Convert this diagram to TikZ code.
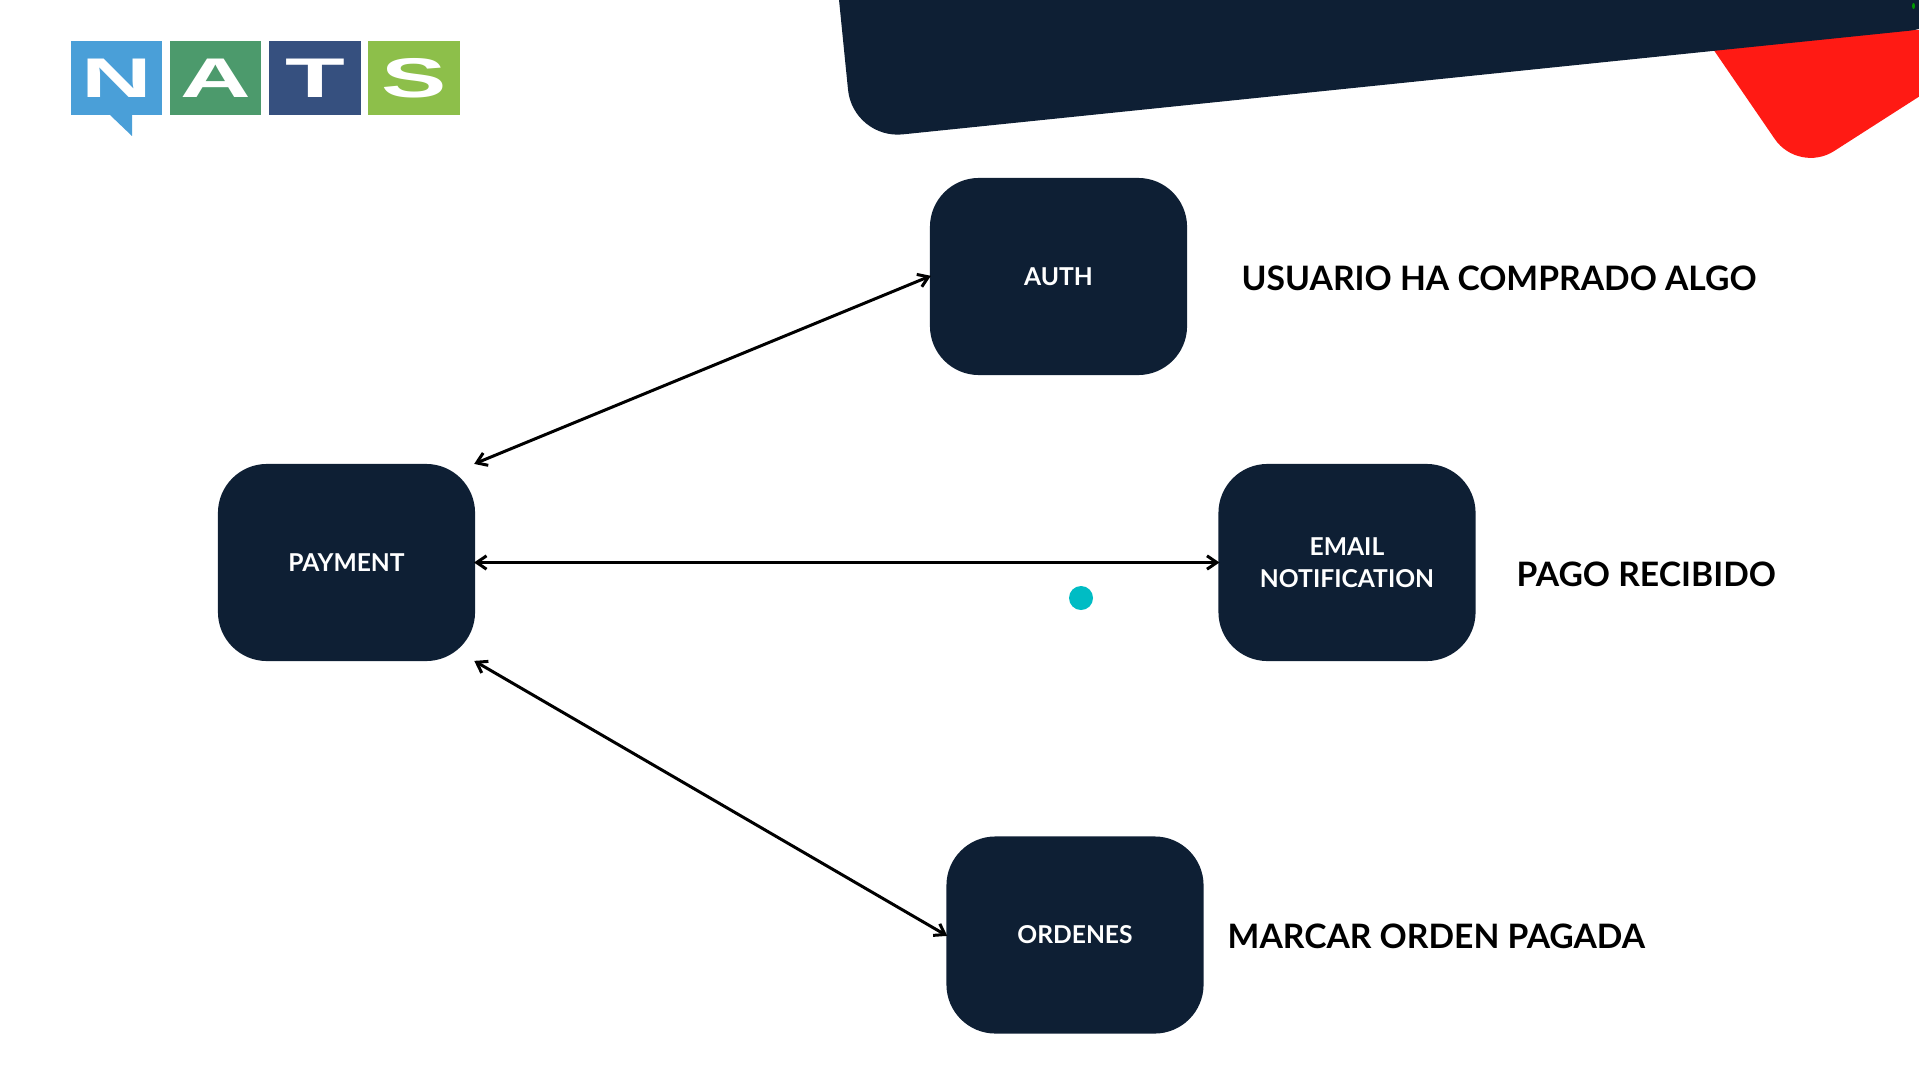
\documentclass[tikz,border=0pt]{standalone}
\usepackage{fontspec}
\setmainfont{Lato}
\newfontfamily\logofont{Liberation Sans}
\usetikzlibrary{arrows.meta, positioning}
\definecolor{navyfill}{HTML}{0E1F34}
\definecolor{alertred}{HTML}{FF1A14}
\definecolor{logoblue}{HTML}{4A9FD8}
\definecolor{logogreen}{HTML}{4C9A6C}
\definecolor{logonavy}{HTML}{36507F}
\definecolor{logolime}{HTML}{8DBF4A}
\definecolor{pointer}{HTML}{00BCC4}
\tikzset{ % global config
    >={Straight Barb[length=2.8pt,width=3.8pt]}, % open arrow heads
    service/.style={draw=none, fill=navyfill, text=white, rounded corners=0.49cm, minimum width=2.57cm, minimum height=1.97cm, inner sep=0pt, align=center, font=\fontsize{7}{9.1}\selectfont\bfseries}, % dark boxes
    link/.style={<->, line width=0.85pt, black, shorten <=-0.5pt, shorten >=-0.5pt}, % connectors
    event/.style={anchor=west, inner sep=0pt, font=\fontsize{9.57}{12}\selectfont\bfseries}, % text beside the boxes
    logobox/.style={minimum width=0.915cm, minimum height=0.745cm, inner sep=0pt, text=white, font=\fontsize{15.9}{16}\selectfont\logofont\bfseries},
}
\begin{document}
\begin{tikzpicture}[x=0.01cm, y=-0.01cm]

		\useasboundingbox (0,0) rectangle (1919,1079);
		\clip (0,0) rectangle (1919,1079);

		% corner shapes
		\fill[alertred] (1700,30) -- (1920,30) -- (1920,96) [rounded corners=0.42cm] -- (1798.6,173.8) [sharp corners] -- cycle;
		\fill[navyfill, rounded corners=0.5cm] (833,-60) -- (853,139.5) -- (1960,25.5) -- (1960,-60) -- cycle;
		\fill[green!60!black] (1913.5,6) ellipse (1.5 and 3);

		% logo
		\fill[logoblue] (110,115) -- (132,136) -- (132,115) -- cycle;
		\node[logobox, fill=logoblue] (logoN) at (116.5,78) {\scalebox{1.75}[1]{N}};
		\node[logobox, fill=logogreen] (logoA) at (215.5,78) {\scalebox{1.75}[1]{A}};
		\node[logobox, fill=logonavy] (logoT) at (315,78) {\scalebox{1.75}[1]{T}};
		\node[logobox, fill=logolime] (logoS) at (414,78) {\scalebox{1.75}[1]{S}};

		% services
		\node[service] (payment) at (346.5,562.5) {PAYMENT};
		\node[service] (auth) at (1058.5,276.5) {AUTH};
		\node[service] (email) at (1347,562.5) {EMAIL\\NOTIFICATION};
		\node[service] (ordenes) at (1075,935) {ORDENES};

		% events
		\node[event] (authtext) at (1241,278) {USUARIO HA COMPRADO ALGO};
		\node[event] (emailtext) at (1516,574) {PAGO RECIBIDO};
		\node[event] (ordenestext) at (1227,936) {MARCAR ORDEN PAGADA};

		\draw[link] (payment.north east) -- (auth.west);
		\draw[link] (payment.east) -- (email.west);
		\draw[link] (payment.south east) -- (ordenes.west);

		% pointer
		\node[circle, fill=pointer, minimum size=0.24cm, inner sep=0pt] (dot) at (1081,598) {};

\end{tikzpicture}
\end{document}
